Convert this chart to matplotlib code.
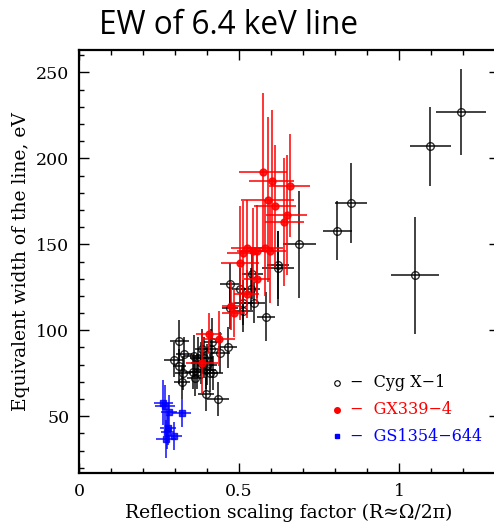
import matplotlib
matplotlib.use('Agg')
import matplotlib.pyplot as plt
import numpy as np

# Cyg X-1 (open circles)
cyg_x = [1.194, 1.098, 0.849, 0.807, 1.049, 0.688, 0.623, 0.621, 0.541, 0.537,
         0.547, 0.514, 0.514, 0.583, 0.472, 0.502, 0.472, 0.314, 0.296, 0.328,
         0.314, 0.324, 0.321, 0.359, 0.371, 0.380, 0.413, 0.441, 0.465, 0.416,
         0.384, 0.356, 0.369, 0.364, 0.397, 0.420, 0.397, 0.435, 0.390, 0.400, 0.410]
cyg_y = [227, 207, 174, 158, 132, 150, 138, 136, 133, 124,
         116, 116, 111, 108, 127, 124, 113, 94, 83, 86,
         79, 75, 70, 85, 84, 81, 89, 87, 90, 93,
         89, 76, 76, 72, 77, 75, 63, 60, 84, 80, 75]
cyg_xerr = [0.078, 0.063, 0.05, 0.045, 0.075, 0.052, 0.034, 0.05, 0.033, 0.03,
            0.035, 0.03, 0.03, 0.028, 0.03, 0.025, 0.025, 0.03, 0.03, 0.025,
            0.02, 0.025, 0.025, 0.03, 0.025, 0.03, 0.03, 0.03, 0.03, 0.025,
            0.02, 0.025, 0.025, 0.025, 0.03, 0.03, 0.025, 0.035, 0.03, 0.03, 0.025]
cyg_yerr = [25, 23, 23, 17, 34, 31, 20, 22, 15, 12,
            12, 13, 12, 14, 12, 12, 12, 12, 10, 10,
            10, 10, 10, 12, 12, 12, 12, 12, 12, 14,
            12, 10, 10, 10, 11, 10, 10, 10, 12, 12, 11]

# GX339-4 (filled red circles)
gx_x = [0.574, 0.602, 0.658, 0.590, 0.613, 0.649, 0.642, 0.512, 0.524, 0.543,
        0.556, 0.581, 0.598, 0.504, 0.557, 0.524, 0.476, 0.483, 0.406, 0.439, 0.384]
gx_y = [192, 187, 184, 176, 172, 167, 163, 145, 148, 146,
        146, 148, 146, 139, 130, 121, 114, 110, 98, 95, 81]
gx_xerr = [0.075, 0.07, 0.063, 0.083, 0.065, 0.065, 0.06, 0.05, 0.05, 0.05,
           0.05, 0.055, 0.05, 0.06, 0.04, 0.04, 0.03, 0.035, 0.04, 0.05, 0.05]
gx_yerr = [46, 41, 30, 48, 36, 35, 37, 30, 28, 25,
           27, 28, 30, 33, 15, 14, 14, 14, 12, 16, 18]

# GS1354-644 (blue squares)
gs_x = [0.264, 0.269, 0.280, 0.321, 0.278, 0.276, 0.296, 0.272]
gs_y = [58, 56, 52.5, 52, 43, 41, 38.5, 37]
gs_xerr = [0.03, 0.03, 0.025, 0.03, 0.025, 0.02, 0.025, 0.03]
gs_yerr = [13, 12, 10, 8, 10, 10, 8, 11]

labels = ['Cyg X\u22121', 'GX339\u22124', 'GS1354\u2212644']

fig = plt.figure(figsize=(4.94, 5.25), dpi=100)
# right edge pushed past the canvas so the right spine is cut off
ax = fig.add_axes([79/494, 52/525, 420/494, 423/525])

ax.errorbar(cyg_x, cyg_y, xerr=cyg_xerr, yerr=cyg_yerr, fmt='o', ms=5.5,
            mfc='none', mec='black', mew=1.0, ecolor='black', elinewidth=1.3,
            alpha=0.8, capsize=0, zorder=3)
ax.errorbar(gx_x, gx_y, xerr=gx_xerr, yerr=gx_yerr, fmt='o', ms=5,
            mfc='red', mec='red', ecolor='red', elinewidth=1.3, alpha=0.85,
            capsize=0, zorder=4)
ax.errorbar(gs_x, gs_y, xerr=gs_xerr, yerr=gs_yerr, fmt='s', ms=4,
            mfc='blue', mec='blue', ecolor='blue', elinewidth=1.3, alpha=0.8,
            capsize=0, zorder=4)

ax.set_xlim(0, 420/320)
ax.set_ylim(17, 263)
ax.set_xticks([0, 0.5, 1])
ax.set_xticklabels(['0', '0.5', '1'])
ax.set_xticks(np.arange(0, 1.31, 0.1), minor=True)
ax.set_yticks([50, 100, 150, 200, 250])
ax.set_yticks(np.arange(20, 261, 10), minor=True)
ax.tick_params(which='both', direction='in', top=True, right=True,
               labelsize=12.5, width=1.0)
ax.tick_params(which='major', length=7, pad=7)
ax.tick_params(which='minor', length=3.5)
for lab in ax.get_xticklabels() + ax.get_yticklabels():
    lab.set_family('DejaVu Serif')
for s in ax.spines.values():
    s.set_linewidth(1.6)

ax.set_xlabel('Reflection scaling factor (R\u2248\u03a9/2\u03c0)',
              family='DejaVu Serif', fontsize=13.5, labelpad=3)
ax.set_ylabel('Equivalent width of the line, eV', family='DejaVu Serif',
              fontsize=13.5, labelpad=4)

# legend drawn by hand like the original
leg_y = [0.213, 0.149, 0.087]
ax.plot(0.615, leg_y[0], 'o', ms=4, mfc='none', mec='black', mew=0.8,
        transform=ax.transAxes)
ax.plot(0.615, leg_y[1], 'o', ms=4, mfc='red', mec='red', transform=ax.transAxes)
ax.plot(0.615, leg_y[2], 's', ms=3, mfc='blue', mec='blue', transform=ax.transAxes)
for yy, lab, c in zip(leg_y, labels, ['black', 'red', 'blue']):
    ax.text(0.645, yy, '\u2212  ' + lab, color=c, family='DejaVu Serif',
            fontsize=11.5, va='center', ha='left', transform=ax.transAxes)

fig.text(228/494, 1 - 26/525, 'EW of 6.4 keV line', family='Open Sans',
         fontsize=22.7, ha='center', va='center')

fig.savefig('out.png', dpi=100)
